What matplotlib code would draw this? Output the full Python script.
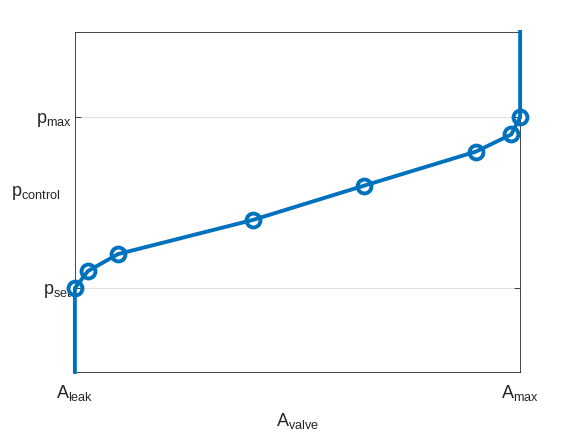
import matplotlib

matplotlib.use("Agg")
import matplotlib.pyplot as plt

plt.rcParams["font.family"] = ["Liberation Sans", "DejaVu Sans"]
plt.rcParams["mathtext.fontset"] = "custom"
plt.rcParams["mathtext.rm"] = "Liberation Sans"
plt.rcParams["mathtext.it"] = "Liberation Sans"

# normalised: A_leak=0, A_max=1 ; p_set=0, p_max=1
curve_x = [0.0, 0.029, 0.097, 0.40, 0.649, 0.901, 0.98, 1.0]
curve_y = [0.0, 0.1, 0.2, 0.4, 0.6, 0.8, 0.9, 1.0]
x_ticks = [0.0, 1.0]
x_tick_labels = [r"$\mathrm{A_{leak}}$", r"$\mathrm{A_{max}}$"]
y_ticks = [0.0, 1.0]
y_tick_labels = [r"$\mathrm{p_{set}}$", r"$\mathrm{p_{max}}$"]
y_lo, y_hi = -0.49, 1.5

blue = "#0072BD"
dark = "#262626"
fs = 13

fig = plt.figure(figsize=(5.76, 4.32), dpi=100)
ax = fig.add_axes([0.130, 0.139, 0.773, 0.787])

full_x = [curve_x[0]] + curve_x + [curve_x[-1]]
full_y = [y_lo] + curve_y + [y_hi]
ax.plot(full_x, full_y, color=blue, linewidth=2.8, clip_on=False, zorder=3)
ax.plot(curve_x, curve_y, linestyle="none", marker="o", markersize=10,
        markerfacecolor="none", markeredgecolor=blue, markeredgewidth=2.8,
        clip_on=False, zorder=4)

ax.set_xlim(0, 1)
ax.set_ylim(y_lo, y_hi)
ax.set_xticks(x_ticks)
ax.set_xticklabels(x_tick_labels)
ax.set_yticks(y_ticks)
ax.set_yticklabels(y_tick_labels)
ax.tick_params(axis="both", direction="in", colors=dark, labelsize=fs,
               length=4, width=0.6, right=True, top=False)
ax.tick_params(axis="x", length=0, pad=8)
ax.tick_params(axis="y", pad=2)
ax.grid(axis="y", color="#dcdcdc", linewidth=0.6)
ax.set_axisbelow(True)
for spine in ax.spines.values():
    spine.set_color(dark)
    spine.set_linewidth(0.6)

ax.set_xlabel(r"$\mathrm{A_{valve}}$", fontsize=fs, color=dark, labelpad=6)
ax.set_ylabel(r"$\mathrm{p_{control}}$", fontsize=fs, color=dark,
              rotation=0, va="center")
ax.yaxis.set_label_coords(-0.088, 0.527)

fig.savefig("out.png", dpi=100)
